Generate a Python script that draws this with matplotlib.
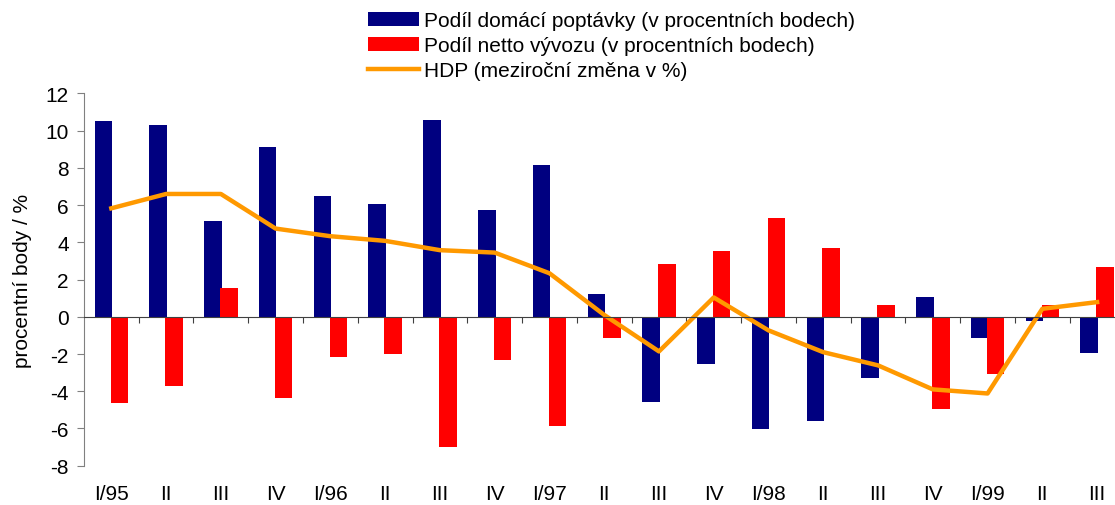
import numpy as np
import matplotlib.pyplot as plt

plt.rcParams['font.family'] = ['Liberation Sans', 'DejaVu Sans']
plt.rcParams['font.size'] = 15
plt.rcParams['axes.unicode_minus'] = False

quarters = ['I/95', 'II', 'III', 'IV', 'I/96', 'II', 'III', 'IV', 'I/97', 'II',
            'III', 'IV', 'I/98', 'II', 'III', 'IV', 'I/99', 'II', 'III']

# Podil domaci poptavky (p.b.)
domestic = [10.5, 10.3, 5.15, 9.1, 6.5, 6.07, 10.6, 5.72, 8.18, 1.22,
            -4.6, -2.56, -6.03, -5.6, -3.31, 1.04, -1.13, -0.23, -1.92]
# Podil netto vyvozu (p.b.)
net_export = [-4.63, -3.72, 1.54, -4.37, -2.16, -2.02, -7.0, -2.33, -5.85, -1.16,
              2.83, 3.53, 5.33, 3.7, 0.66, -4.94, -3.1, 0.61, 2.7]
# HDP mezirocne
gdp = [5.83, 6.6, 6.6, 4.74, 4.33, 4.08, 3.58, 3.45, 2.34, 0.1,
       -1.86, 1.04, -0.73, -1.9, -2.61, -3.9, -4.12, 0.43, 0.79]

x = np.arange(len(quarters))

fig = plt.figure(figsize=(11.15, 5.06), dpi=100)
ax = fig.add_axes([0.0753, 0.0777, 0.9332, 0.7356])

b1 = ax.bar(x - 0.145, domestic, width=0.32, color='#000080', zorder=2)
b2 = ax.bar(x + 0.145, net_export, width=0.32, color='#FF0000', zorder=2)
l1, = ax.plot(x, gdp, color='#FF9900', lw=3.2, zorder=3)

ax.set_xlim(-0.5, len(quarters) - 0.5)
ax.set_ylim(-8, 12)
ax.set_yticks(np.arange(-8, 13, 2))
ax.set_ylabel('procentní body / %')
ax.yaxis.set_label_coords(-0.05, 0.5)

for s in ['top', 'right']:
    ax.spines[s].set_visible(False)
ax.spines['left'].set_color('#808080')
ax.spines['bottom'].set_position(('data', 0))
ax.spines['bottom'].set_color('#404040')
ax.spines['bottom'].set_zorder(4)
ax.set_xticks(x[:-1] + 0.5)
ax.tick_params(axis='x', length=4, labelbottom=False, color='#404040')
ax.tick_params(axis='y', length=5, pad=6, color='#808080')

sec = ax.secondary_xaxis(0)
sec.set_xticks(x, quarters)
sec.tick_params(length=0, pad=13)
sec.spines['bottom'].set_visible(False)

fig.legend([b1, b2, l1],
           ['Podíl domácí poptávky (v procentních bodech)',
            'Podíl netto vývozu (v procentních bodech)',
            'HDP (meziroční změna v %)'],
           loc='upper left', bbox_to_anchor=(0.321, 0.997), frameon=False,
           fontsize=15, handlelength=2.45, handleheight=0.65,
           handletextpad=0.2, labelspacing=0.3, borderpad=0)

fig.savefig('out.png', dpi=100)
